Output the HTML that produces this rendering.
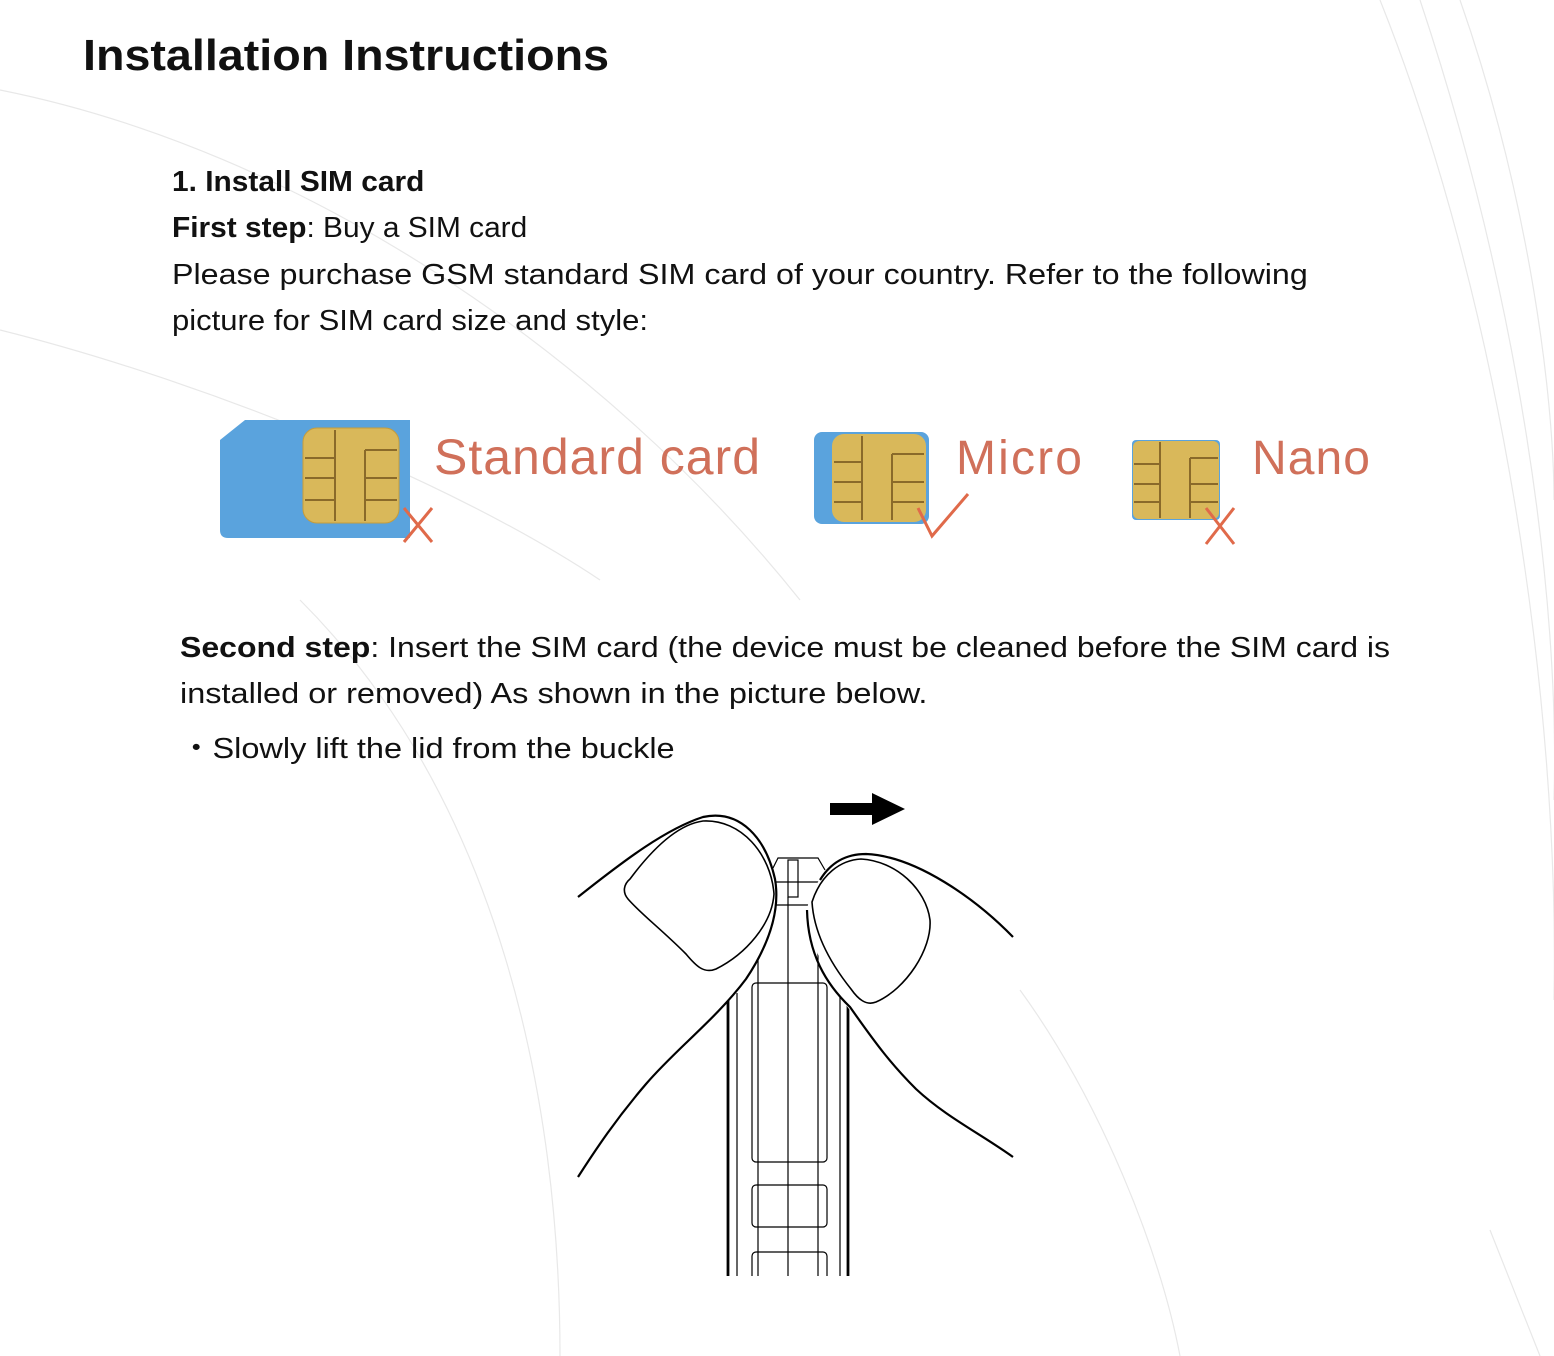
<!DOCTYPE html>
<html><head><meta charset="utf-8"><style>
body{margin:0;width:1554px;height:1356px;background:#fff;position:relative;overflow:hidden;font-family:"Liberation Sans",sans-serif;color:#111}
.t{position:absolute;white-space:nowrap;font-size:29px;transform-origin:0 0}
b{font-weight:bold}
</style></head><body>
<svg width="1554" height="1356" style="position:absolute;left:0;top:0" fill="none" stroke="#e8e8e8" stroke-width="1.2">
<path d="M1380 0 C1500 300 1560 700 1554 1000"/><path d="M1420 0 C1520 300 1560 600 1554 800"/>
<path d="M1460 0 C1530 200 1554 400 1554 500"/>
<path d="M0 90 C300 150 600 350 800 600"/><path d="M0 330 C200 380 450 480 600 580"/>
<path d="M300 600 C500 800 560 1100 560 1356"/><path d="M1020 990 C1100 1100 1160 1250 1180 1356"/>
<path d="M1490 1230 C1510 1280 1530 1330 1540 1356"/>
</svg>
<div class="t" style="left:83px;top:31px;font-size:44px;font-weight:bold;transform:scaleX(1.06)">Installation Instructions</div>
<div class="t" style="left:172px;top:166px;transform:scaleX(1.03)"><b>1. Install SIM card</b></div>
<div class="t" style="left:172px;top:212px;transform:scaleX(1.03)"><b>First step</b>: Buy a SIM card</div>
<div class="t" style="left:172px;top:259px;transform:scaleX(1.112)">Please purchase GSM standard SIM card of your country. Refer to the following</div>
<div class="t" style="left:172px;top:305px;transform:scaleX(1.07)">picture for SIM card size and style:</div>

<svg width="1554" height="200" style="position:absolute;left:0;top:390px">
<path d="M245 30 L410 30 L410 148 L228 148 Q220 148 220 140 L220 50 Z" fill="#5aa3dd"/>
<rect x="303" y="38" width="96" height="95" rx="14" fill="#d9b85a" stroke="#c59c3c"/>
<g stroke="#8a6a2a" stroke-width="2"><line x1="335" y1="40" x2="335" y2="131"/><line x1="305" y1="68" x2="335" y2="68"/><line x1="305" y1="88" x2="335" y2="88"/><line x1="305" y1="110" x2="335" y2="110"/><line x1="365" y1="60" x2="365" y2="131"/><line x1="365" y1="60" x2="397" y2="60"/><line x1="365" y1="88" x2="397" y2="88"/><line x1="365" y1="110" x2="397" y2="110"/></g>
<path d="M404 118 L432 152 M432 118 L404 152" stroke="#e06a4a" stroke-width="3" fill="none"/>
<text x="434" y="84" font-size="50" fill="#d0705a" font-family="Liberation Sans" textLength="326">Standard card</text>
<rect x="814" y="42" width="115" height="92" rx="8" fill="#5aa3dd"/>
<rect x="832" y="44" width="94" height="88" rx="12" fill="#d9b85a"/>
<g stroke="#8a6a2a" stroke-width="2"><line x1="862" y1="46" x2="862" y2="130"/><line x1="834" y1="72" x2="862" y2="72"/><line x1="834" y1="92" x2="862" y2="92"/><line x1="834" y1="112" x2="862" y2="112"/><line x1="892" y1="64" x2="892" y2="130"/><line x1="892" y1="64" x2="924" y2="64"/><line x1="892" y1="92" x2="924" y2="92"/><line x1="892" y1="112" x2="924" y2="112"/></g>
<path d="M918 118 L932 146 L968 104" stroke="#e06a4a" stroke-width="3" fill="none"/>
<text x="956" y="84" font-size="48" fill="#d0705a" font-family="Liberation Sans" textLength="126">Micro</text>
<rect x="1132" y="50" width="88" height="80" rx="4" fill="#5aa3dd"/>
<rect x="1133" y="51" width="86" height="78" rx="6" fill="#d9b85a"/>
<g stroke="#8a6a2a" stroke-width="2"><line x1="1160" y1="52" x2="1160" y2="128"/><line x1="1134" y1="74" x2="1160" y2="74"/><line x1="1134" y1="94" x2="1160" y2="94"/><line x1="1134" y1="112" x2="1160" y2="112"/><line x1="1190" y1="68" x2="1190" y2="128"/><line x1="1190" y1="68" x2="1218" y2="68"/><line x1="1190" y1="94" x2="1218" y2="94"/><line x1="1190" y1="112" x2="1218" y2="112"/></g>
<path d="M1206 118 L1234 154 M1234 118 L1206 154" stroke="#e06a4a" stroke-width="3" fill="none"/>
<text x="1252" y="84" font-size="48" fill="#d0705a" font-family="Liberation Sans" textLength="118">Nano</text>
</svg>

<div class="t" style="left:180px;top:632px;transform:scaleX(1.104)"><b>Second step</b>: Insert the SIM card (the device must be cleaned before the SIM card is</div>
<div class="t" style="left:180px;top:678px;transform:scaleX(1.12)">installed or removed) As shown in the picture below.</div>
<div class="t" style="left:180px;top:725px;transform:scaleX(1.12)">・Slowly lift the lid from the buckle</div>

<svg width="440" height="492" style="position:absolute;left:576px;top:784px" fill="none" stroke="#000" stroke-width="2.2">
<g stroke-width="1.2">
<path d="M197 84 L202 74 L242 74 L249 86"/>
<rect x="212" y="76" width="10" height="37"/>
<line x1="200" y1="98" x2="246" y2="98"/><line x1="200" y1="121" x2="246" y2="121"/>
<line x1="212" y1="113" x2="212" y2="492"/>
<line x1="182" y1="98" x2="182" y2="492"/><line x1="242" y1="98" x2="242" y2="492"/>
<line x1="161" y1="209" x2="161" y2="492"/><line x1="264" y1="209" x2="264" y2="492"/>
<rect x="176" y="199" width="75" height="179" rx="4"/>
<rect x="176" y="401" width="75" height="42" rx="4"/>
<rect x="176" y="468" width="75" height="40" rx="4"/>
</g>
<line x1="152" y1="209" x2="152" y2="492" stroke-width="2.8"/>
<line x1="272" y1="209" x2="272" y2="492" stroke-width="2.8"/>
<path d="M2 113 C50 75 90 45 127 33 C165 25 190 55 199 95 C205 130 190 165 170 195 C140 235 100 265 70 300 C40 335 20 365 2 393" fill="#fff"/>
<path d="M54 95 C80 60 105 40 127 37 C165 35 195 70 198 110 C196 140 170 170 140 185 C128 190 120 182 110 170 C85 145 65 130 52 115 C46 108 48 100 54 95 Z" stroke-width="1.6" fill="#fff"/>
<path d="M231 126 C235 100 255 75 284 69 C330 60 390 100 437 153 L437 373 C400 345 370 330 340 300 C300 260 280 235 262 210 C245 180 231 150 231 126 Z" fill="#fff" stroke="none"/>
<path d="M244 96 C255 78 270 70 290 70 C340 72 400 115 437 153"/>
<path d="M231 126 C232 170 250 200 274 223 C300 260 315 280 340 305 C370 333 405 350 437 373"/>
<path d="M236 118 C245 90 265 76 285 75 C320 77 350 105 354 136 C356 165 330 205 300 218 C290 222 282 215 275 205 C255 180 238 150 236 118 Z" stroke-width="1.6"/>
<path d="M254 19 L296 19 L296 9 L329 25 L296 41 L296 31 L254 31 Z" fill="#000" stroke="none"/>
</svg>
</body></html>
